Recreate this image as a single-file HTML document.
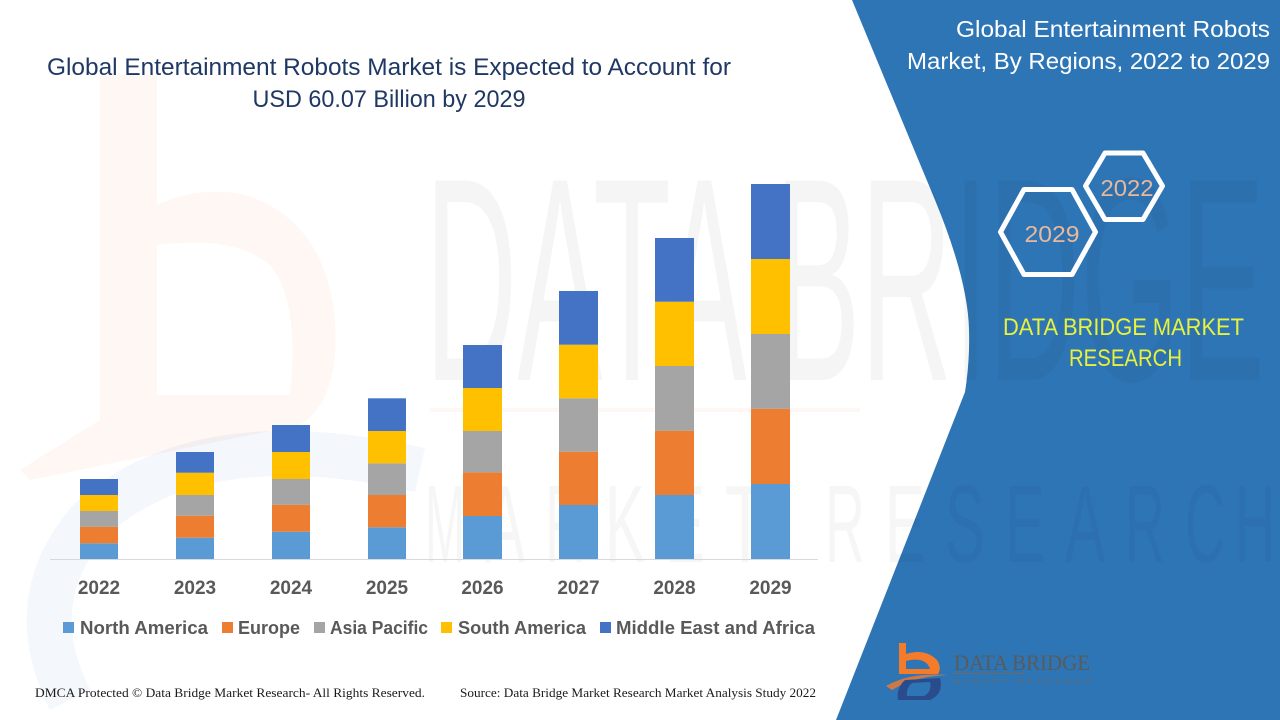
<!DOCTYPE html>
<html>
<head>
<meta charset="utf-8">
<style>
  html,body{margin:0;padding:0;background:#fff;}
  svg{display:block;}
</style>
</head>
<body>
<svg width="1280" height="720" viewBox="0 0 1280 720" xmlns="http://www.w3.org/2000/svg">
  <rect x="0" y="0" width="1280" height="720" fill="#ffffff"/>

  <!-- faint watermark: orange b -->
  <g opacity="0.06" fill="#ED7D31">
    <path d="M100,75 H157 V205 Q200,185 245,195 Q325,220 335,320 Q340,400 300,425 L30,480 L20,470 L100,420 Z M157,245 V395 H290 Q300,300 270,265 Q235,235 157,245 Z" fill-rule="evenodd"/>
  </g>
  <!-- faint watermark: blue swoosh -->
  <g opacity="0.06" fill="none" stroke="#4472C4" stroke-width="45">
    <path d="M420,470 Q200,420 90,520 Q20,600 70,700"/>
  </g>
  <line x1="430" y1="410" x2="860" y2="410" stroke="#ED7D31" stroke-width="4" opacity="0.05"/>

  <!-- blue right panel -->
  <path d="M852,0 L935,200 Q968,280 969,330 Q970,360 965,392 L836,720 L1280,720 L1280,0 Z" fill="#2E75B6"/>

  <!-- faint watermark: big text -->
  <text x="425" y="380" font-family="Liberation Sans, sans-serif" font-size="290" fill="#000" opacity="0.035" textLength="840" lengthAdjust="spacingAndGlyphs">DATA BRIDGE</text>
  <g font-family="Liberation Sans, sans-serif" font-size="110" fill="#000" opacity="0.03" text-anchor="middle">
    <text x="445" y="562" textLength="40" lengthAdjust="spacingAndGlyphs">M</text>
    <text x="505" y="562" textLength="40" lengthAdjust="spacingAndGlyphs">A</text>
    <text x="565" y="562" textLength="40" lengthAdjust="spacingAndGlyphs">R</text>
    <text x="625" y="562" textLength="40" lengthAdjust="spacingAndGlyphs">K</text>
    <text x="685" y="562" textLength="40" lengthAdjust="spacingAndGlyphs">E</text>
    <text x="745" y="562" textLength="40" lengthAdjust="spacingAndGlyphs">T</text>
    <text x="845" y="562" textLength="40" lengthAdjust="spacingAndGlyphs">R</text>
    <text x="905" y="562" textLength="40" lengthAdjust="spacingAndGlyphs">E</text>
    <text x="965" y="562" textLength="40" lengthAdjust="spacingAndGlyphs">S</text>
    <text x="1025" y="562" textLength="40" lengthAdjust="spacingAndGlyphs">E</text>
    <text x="1085" y="562" textLength="40" lengthAdjust="spacingAndGlyphs">A</text>
    <text x="1145" y="562" textLength="40" lengthAdjust="spacingAndGlyphs">R</text>
    <text x="1205" y="562" textLength="40" lengthAdjust="spacingAndGlyphs">C</text>
    <text x="1255" y="562" textLength="40" lengthAdjust="spacingAndGlyphs">H</text>
  </g>

  <!-- Title -->
  <g font-family="Liberation Sans, sans-serif" fill="#1F3864" font-size="24" text-anchor="middle">
    <text x="389" y="75" textLength="684" lengthAdjust="spacingAndGlyphs">Global Entertainment Robots Market is Expected to Account for</text>
    <text x="389" y="107" textLength="273" lengthAdjust="spacingAndGlyphs">USD 60.07 Billion by 2029</text>
  </g>

  <!-- axis line -->
  <line x1="50" y1="559.5" x2="818" y2="559.5" stroke="#D9D9D9" stroke-width="1"/>

  <!-- bars: NA, EU, AP, SA, MEA -->
  <rect x="80" y="543.3" width="38" height="15.7" fill="#5B9BD5"/>
  <rect x="80" y="526.7" width="38" height="16.6" fill="#ED7D31"/>
  <rect x="80" y="511" width="38" height="15.7" fill="#A5A5A5"/>
  <rect x="80" y="495" width="38" height="16" fill="#FFC000"/>
  <rect x="80" y="479" width="38" height="16" fill="#4472C4"/>

  <rect x="176" y="537.7" width="38" height="21.3" fill="#5B9BD5"/>
  <rect x="176" y="515.7" width="38" height="22" fill="#ED7D31"/>
  <rect x="176" y="495" width="38" height="20.7" fill="#A5A5A5"/>
  <rect x="176" y="472.7" width="38" height="22.3" fill="#FFC000"/>
  <rect x="176" y="452" width="38" height="20.7" fill="#4472C4"/>

  <rect x="272" y="531.7" width="38" height="27.3" fill="#5B9BD5"/>
  <rect x="272" y="504.7" width="38" height="27" fill="#ED7D31"/>
  <rect x="272" y="479" width="38" height="25.7" fill="#A5A5A5"/>
  <rect x="272" y="452" width="38" height="27" fill="#FFC000"/>
  <rect x="272" y="425" width="38" height="27" fill="#4472C4"/>

  <rect x="368" y="527.3" width="38" height="31.7" fill="#5B9BD5"/>
  <rect x="368" y="495" width="38" height="32.3" fill="#ED7D31"/>
  <rect x="368" y="463.3" width="38" height="31.7" fill="#A5A5A5"/>
  <rect x="368" y="431" width="38" height="32.3" fill="#FFC000"/>
  <rect x="368" y="398.3" width="38" height="32.7" fill="#4472C4"/>

  <rect x="463" y="516" width="39" height="43" fill="#5B9BD5"/>
  <rect x="463" y="472.3" width="39" height="43.7" fill="#ED7D31"/>
  <rect x="463" y="431" width="39" height="41.3" fill="#A5A5A5"/>
  <rect x="463" y="388" width="39" height="43" fill="#FFC000"/>
  <rect x="463" y="345" width="39" height="43" fill="#4472C4"/>

  <rect x="559" y="505" width="39" height="54" fill="#5B9BD5"/>
  <rect x="559" y="451.7" width="39" height="53.3" fill="#ED7D31"/>
  <rect x="559" y="398.3" width="39" height="53.4" fill="#A5A5A5"/>
  <rect x="559" y="344.7" width="39" height="53.6" fill="#FFC000"/>
  <rect x="559" y="291" width="39" height="53.7" fill="#4472C4"/>

  <rect x="655" y="495" width="39" height="64" fill="#5B9BD5"/>
  <rect x="655" y="430.7" width="39" height="64.3" fill="#ED7D31"/>
  <rect x="655" y="366" width="39" height="64.7" fill="#A5A5A5"/>
  <rect x="655" y="301.7" width="39" height="64.3" fill="#FFC000"/>
  <rect x="655" y="238" width="39" height="63.7" fill="#4472C4"/>

  <rect x="751" y="484" width="39" height="75" fill="#5B9BD5"/>
  <rect x="751" y="408.7" width="39" height="75.3" fill="#ED7D31"/>
  <rect x="751" y="334" width="39" height="74.7" fill="#A5A5A5"/>
  <rect x="751" y="259" width="39" height="75" fill="#FFC000"/>
  <rect x="751" y="184" width="39" height="75" fill="#4472C4"/>

  <!-- year labels -->
  <g font-family="Liberation Sans, sans-serif" font-weight="bold" font-size="19" fill="#595959" text-anchor="middle">
    <text x="99" y="594">2022</text>
    <text x="195" y="594">2023</text>
    <text x="291" y="594">2024</text>
    <text x="387" y="594">2025</text>
    <text x="482.5" y="594">2026</text>
    <text x="578.5" y="594">2027</text>
    <text x="674.5" y="594">2028</text>
    <text x="770.5" y="594">2029</text>
  </g>

  <!-- legend -->
  <rect x="63" y="622" width="11" height="11" fill="#5B9BD5"/>
  <rect x="222" y="622" width="11" height="11" fill="#ED7D31"/>
  <rect x="314" y="622" width="11" height="11" fill="#A5A5A5"/>
  <rect x="441" y="622" width="11" height="11" fill="#FFC000"/>
  <rect x="600" y="622" width="11" height="11" fill="#4472C4"/>
  <g font-family="Liberation Sans, sans-serif" font-weight="bold" font-size="18" fill="#595959">
    <text x="80" y="634" textLength="128" lengthAdjust="spacingAndGlyphs">North America</text>
    <text x="238" y="634" textLength="62" lengthAdjust="spacingAndGlyphs">Europe</text>
    <text x="330" y="634" textLength="98" lengthAdjust="spacingAndGlyphs">Asia Pacific</text>
    <text x="458" y="634" textLength="128" lengthAdjust="spacingAndGlyphs">South America</text>
    <text x="616" y="634" textLength="199" lengthAdjust="spacingAndGlyphs">Middle East and Africa</text>
  </g>

  <!-- footer -->
  <g font-family="Liberation Serif, serif" font-size="13" fill="#1a1a1a">
    <text x="35" y="697" textLength="390" lengthAdjust="spacingAndGlyphs">DMCA Protected © Data Bridge Market Research- All Rights Reserved.</text>
    <text x="460" y="697" textLength="356" lengthAdjust="spacingAndGlyphs">Source: Data Bridge Market Research Market Analysis Study 2022</text>
  </g>

  <!-- right title -->
  <g font-family="Liberation Sans, sans-serif" font-size="23" fill="#ffffff" text-anchor="end">
    <text x="1270" y="37" textLength="314" lengthAdjust="spacingAndGlyphs">Global Entertainment Robots</text>
    <text x="1270" y="69" textLength="363" lengthAdjust="spacingAndGlyphs">Market, By Regions, 2022 to 2029</text>
  </g>

  <!-- hexagons -->
  <g fill="none" stroke="#ffffff" stroke-width="5" stroke-linejoin="round">
    <polygon points="1085.5,186 1105,153 1143,153 1162.5,186 1143,219.5 1105,219.5"/>
    <polygon points="1000.5,232 1024,189.5 1072,189.5 1095.5,232 1072,274.5 1024,274.5"/>
  </g>
  <g font-family="Liberation Sans, sans-serif" font-size="23" fill="#E9B89B" text-anchor="middle">
    <text x="1127" y="196" textLength="53" lengthAdjust="spacingAndGlyphs">2022</text>
    <text x="1052" y="242" textLength="55" lengthAdjust="spacingAndGlyphs">2029</text>
  </g>

  <!-- yellow brand text -->
  <g font-family="Liberation Sans, sans-serif" font-size="24" fill="#E8F23C" text-anchor="middle">
    <text x="1123.5" y="335" textLength="241" lengthAdjust="spacingAndGlyphs">DATA BRIDGE MARKET</text>
    <text x="1125.5" y="366" textLength="113" lengthAdjust="spacingAndGlyphs">RESEARCH</text>
  </g>

  <!-- bottom logo -->
  <g>
    <path d="M899,643 H906 V654 Q925,648 937,660 Q942,668 938,674 L899,674 Z M906,661 V669 H930 Q928,662 920,660 Q912,659 906,661 Z" fill="#F47B2A" fill-rule="evenodd"/>
    <path d="M886,686 Q910,672 948,675 Q915,676 892,690 Z" fill="#F47B2A" opacity="0.8"/>
    <path d="M898,700 Q896,688 905,680 L940,678 Q944,694 930,700 Z" fill="#2B4C8C"/>
    <path d="M907,696 Q906,688 912,683 L930,682 Q932,692 924,696 Z" fill="#2E75B6"/>
    <text x="954" y="670" font-family="Liberation Serif, serif" font-size="22" fill="#5a5a5a" textLength="136" lengthAdjust="spacingAndGlyphs">DATA BRIDGE</text>
    <line x1="952" y1="673.5" x2="1025" y2="673.5" stroke="#6a6a6a" stroke-width="1.2"/>
    <text x="954" y="684" font-family="Liberation Sans, sans-serif" font-size="7" fill="#6a6a6a" textLength="136" lengthAdjust="spacing">MARKET RESEARCH</text>
  </g>
</svg>
</body>
</html>
